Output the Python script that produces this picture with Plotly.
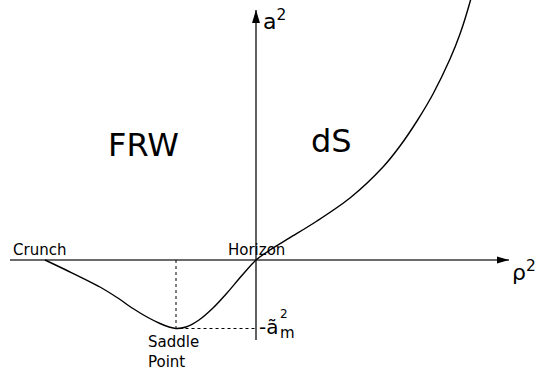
import plotly.graph_objects as go

# Potential curve a^2 as a function of rho^2 (arbitrary units)
rho2 = [-2.11, -1.89, -1.56, -1.39, -1.23, -1.09, -0.96, -0.87, -0.80, -0.70,
        -0.57, -0.43, -0.29, -0.15, 0.00, 0.14, 0.34, 0.61, 0.94, 1.27,
        1.44, 1.61, 1.77, 1.94, 2.04, 2.14, 2.17]
a2 = [0.000, -0.105, -0.270, -0.375, -0.485, -0.570, -0.635, -0.670, -0.685, -0.670,
      -0.600, -0.480, -0.330, -0.165, 0.000, 0.100, 0.223, 0.390, 0.620, 0.930,
      1.140, 1.390, 1.660, 2.010, 2.260, 2.580, 2.700]

# Saddle point (minimum of the curve)
saddle_rho2 = -0.80
saddle_a2 = -0.685

# Axis extents
x_axis = [-2.46, 2.53]
y_axis = [-0.80, 2.50]

AXIS_COLOR = "#3a3a3a"
FONT = "DejaVu Sans"

fig = go.Figure()

# Coordinate axes
fig.add_trace(go.Scatter(x=x_axis, y=[0, 0], mode="lines",
                         line=dict(color=AXIS_COLOR, width=1.6), hoverinfo="skip"))
fig.add_trace(go.Scatter(x=[0, 0], y=y_axis, mode="lines",
                         line=dict(color=AXIS_COLOR, width=1.6), hoverinfo="skip"))

# Dotted guides to the saddle point
fig.add_trace(go.Scatter(x=[saddle_rho2, saddle_rho2, 0], y=[0, saddle_a2, saddle_a2],
                         mode="lines", line=dict(color="black", width=1, dash="dot"),
                         hoverinfo="skip"))

# Curve
fig.add_trace(go.Scatter(x=rho2, y=a2, mode="lines",
                         line=dict(color="black", width=1.4, shape="spline", smoothing=0.8),
                         hoverinfo="skip"))

# Arrowheads
fig.add_shape(type="path", xref="x", yref="y", xsizemode="pixel", ysizemode="pixel",
              xanchor=x_axis[1], yanchor=0, path="M 0 0 L -12 3.5 L -12 -3.5 Z",
              fillcolor="black", line=dict(width=0))
fig.add_shape(type="path", xref="x", yref="y", xsizemode="pixel", ysizemode="pixel",
              xanchor=0, yanchor=y_axis[1], path="M 0 0 L -4 -13 L 4 -13 Z",
              fillcolor="black", line=dict(width=0))


def label(text, x, y, size, xanchor="left", yanchor="middle"):
    fig.add_annotation(x=x, y=y, text=text, showarrow=False, xanchor=xanchor,
                       yanchor=yanchor, align="left", borderpad=0,
                       font=dict(family=FONT, size=size, color="black"))


label("Crunch", -2.44, 0.10, 15)
label("Horizon", -0.29, 0.10, 15)
label("Saddle<br>Point", -1.09, -0.92, 15)
label("FRW", -1.13, 1.15, 32, xanchor="center")
label("dS", 0.75, 1.19, 32, xanchor="center")
label("a<sup>2</sup>", 0.06, 2.40, 22)
label("ρ<sup>2</sup>", 2.55, -0.11, 22)
label("-ã", 0.02, -0.665, 20)
label("2", 0.225, -0.54, 12)
label("m", 0.225, -0.725, 15)

fig.update_layout(
    width=539, height=372,
    margin=dict(l=0, r=0, t=0, b=0),
    paper_bgcolor="white", plot_bgcolor="white",
    showlegend=False,
    xaxis=dict(range=[-2.56, 2.83], visible=False, fixedrange=True),
    yaxis=dict(range=[-1.12, 2.60], visible=False, fixedrange=True),
)

fig.write_html("out.html")
